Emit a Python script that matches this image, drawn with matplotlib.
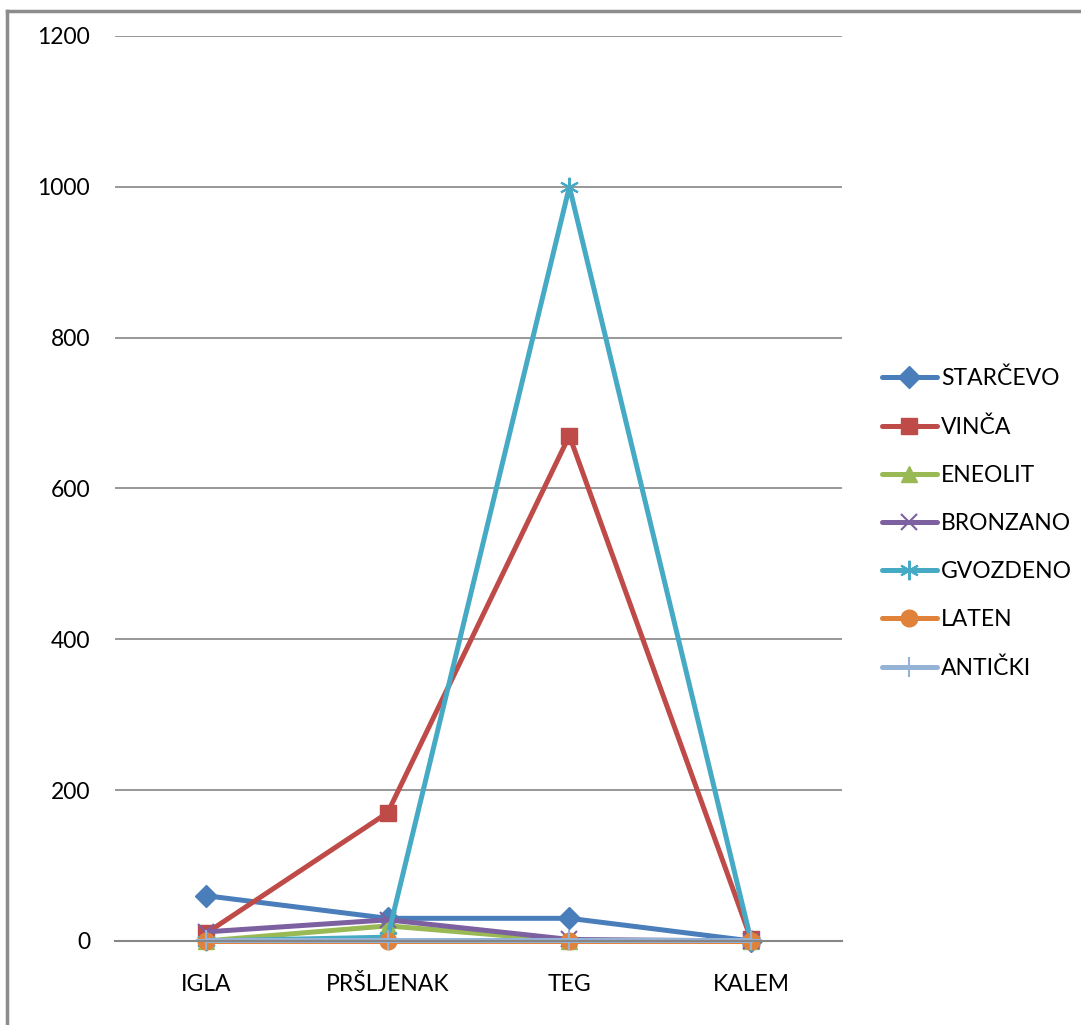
import matplotlib.pyplot as plt
from matplotlib.lines import Line2D

kategorije = ['IGLA', 'PRŠLJENAK', 'TEG', 'KALEM']
starcevo = [60, 30, 30, 0]
vinca = [10, 170, 670, 2]
eneolit = [0, 20, 0, 0]
bronzano = [12, 28, 2, 0]
gvozdeno = [0, 5, 1000, 0]
laten = [0, 0, 0, 0]
anticki = [1, 1, 1, 1]

serije = [
    ('STARČEVO', starcevo, '#4A7EBB', 'D', 11),
    ('VINČA', vinca, '#BE4B48', 's', 12),
    ('ENEOLIT', eneolit, '#98B954', '^', 12),
    ('BRONZANO', bronzano, '#7D60A0', 'x', 11),
    ('GVOZDENO', gvozdeno, '#46AAC5', (6, 2, 0), 14),
    ('LATEN', laten, '#E0823A', 'o', 12),
    ('ANTIČKI', anticki, '#95B3D7', '+', 14),
]

plt.rcParams['font.family'] = ['Lato', 'DejaVu Sans']

fig = plt.figure(figsize=(10.81, 10.25), dpi=100)
ax = fig.add_axes([0.1064, 0.0820, 0.6725, 0.8829])

x = list(range(len(kategorije)))
for ime, vrednosti, boja, marker, vel in serije:
    ax.plot(x, vrednosti, color=boja, linewidth=3.6, marker=marker, markersize=vel,
            markeredgewidth=1.5 if marker in ('x', '+', (6, 2, 0)) else 1,
            markeredgecolor=boja, markerfacecolor=boja, label=ime, clip_on=False,
            solid_capstyle='round')

ax.set_xlim(-0.5, 3.5)
ax.set_ylim(0, 1200)
ax.set_yticks(range(0, 1201, 200))
ax.set_xticks(x)
ax.set_xticklabels(kategorije)
ax.yaxis.grid(True, color='#868686', linewidth=1.2)
ax.set_axisbelow(True)
for s in ['top', 'right', 'left']:
    ax.spines[s].set_visible(False)
ax.spines['bottom'].set_color('#868686')
ax.spines['bottom'].set_linewidth(1.5)
ax.tick_params(axis='both', length=0, labelsize=16.5, colors='black')
ax.tick_params(axis='y', pad=18)
ax.tick_params(axis='x', pad=24)

leg = fig.legend(loc='upper left', bbox_to_anchor=(0.807, 0.650), frameon=False,
                 fontsize=16.5, handlelength=2.4, handletextpad=0.2, labelspacing=1.18,
                 borderaxespad=0)

# okvir grafikona
fig.add_artist(Line2D([0.0065, 0.0065], [0, 0.989], transform=fig.transFigure,
                      color='#8c8c8c', linewidth=2.5))
fig.add_artist(Line2D([0.0065, 1.0], [0.989, 0.989], transform=fig.transFigure,
                      color='#8c8c8c', linewidth=2.5))

fig.savefig('out.png', dpi=100)
